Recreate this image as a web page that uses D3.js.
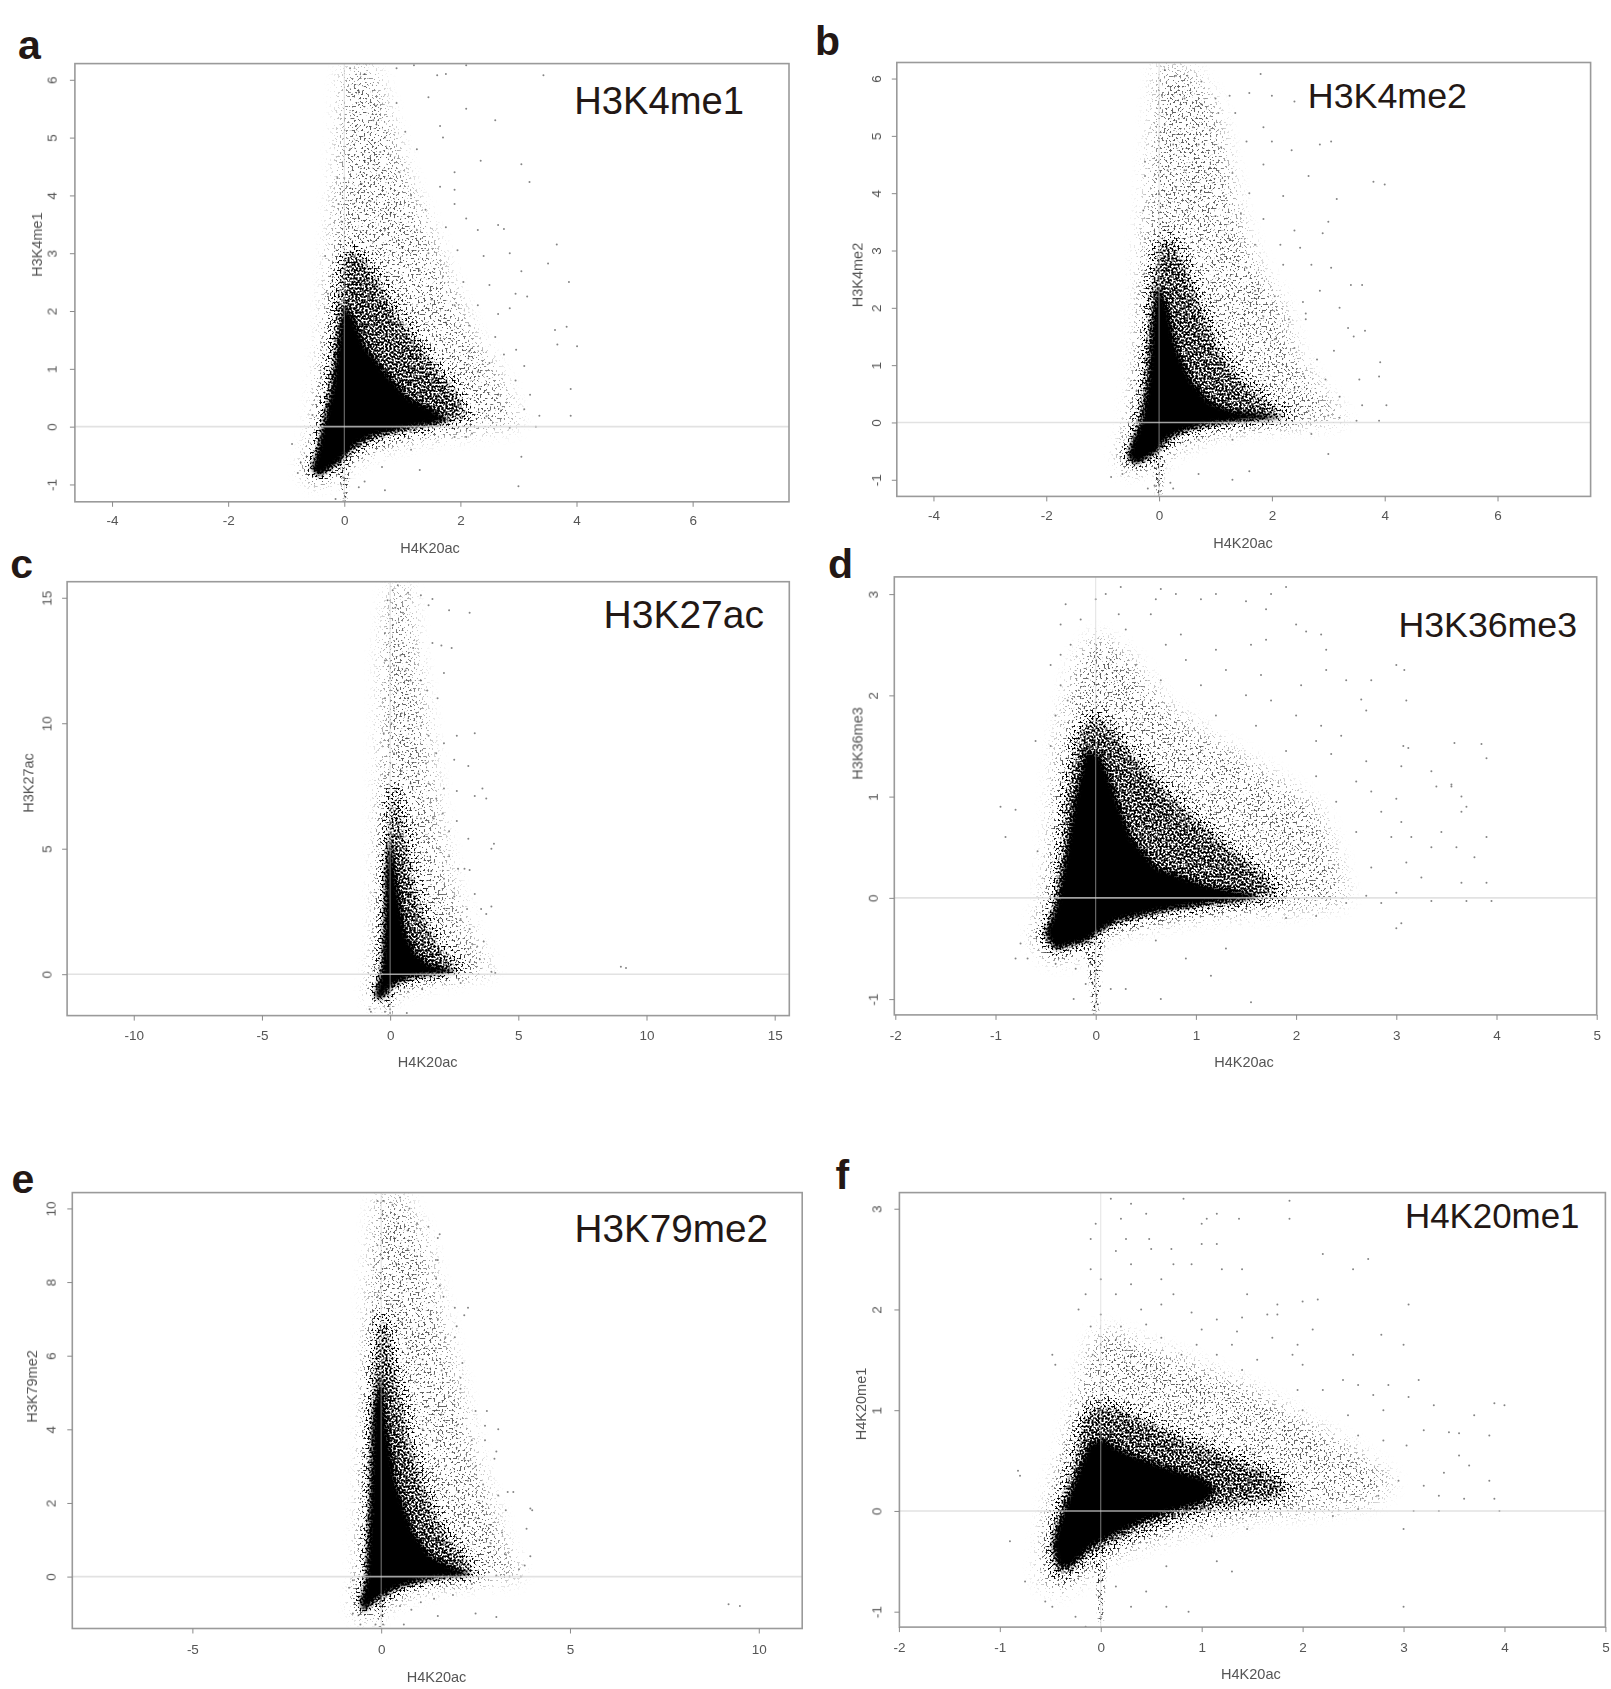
<!DOCTYPE html>
<html>
<head>
<meta charset="utf-8">
<script src="https://cdn.jsdelivr.net/npm/d3@7"></script>
<style>
  html, body { margin: 0; padding: 0; background: #fff; }
  svg { display: block; }
  text { font-family: "Liberation Sans", Arial, sans-serif; }
  .tick-text { fill: #555; font-size: 13.5px; filter: blur(0.45px); }
  .axis-title { fill: #555; font-size: 14.5px; filter: blur(0.45px); }
  .panel-title { fill: #231815; }
  .panel-letter { fill: #231815; font-weight: bold; font-size: 41px; }
</style>
</head>
<body>
<div id="chart"></div>
<script>
// values, data units (H4K20ac, y mark)
var xTicksA = [-4, -2, 0, 2, 4, 6], yTicksA = [-1, 0, 1, 2, 3, 4, 5, 6];
var xTicksB = [-4, -2, 0, 2, 4, 6], yTicksB = [-1, 0, 1, 2, 3, 4, 5, 6];
var xTicksC = [-10, -5, 0, 5, 10, 15], yTicksC = [0, 5, 10, 15];
var xTicksD = [-2, -1, 0, 1, 2, 3, 4, 5], yTicksD = [-1, 0, 1, 2, 3];
var xTicksE = [-5, 0, 5, 10], yTicksE = [0, 2, 4, 6, 8, 10];
var xTicksF = [-2, -1, 0, 1, 2, 3, 4, 5], yTicksF = [-1, 0, 1, 2, 3];

// density outlines: solid core, denser cloud, thin cloud, tail under x = 0
var coreA = [[-0.55,-0.72],[-0.45,-0.85],[-0.3,-0.75],[-0.12,-0.62],[0,-0.5],[0.2,-0.3],[0.5,-0.15],[1,-0.03],[1.5,0.06],[1.8,0.12],[1.5,0.3],[1.1,0.5],[0.7,0.95],[0.35,1.4],[0.15,1.9],[0,2.1],[-0.1,1.5],[-0.2,0.7],[-0.35,0.05],[-0.45,-0.4]];
var midA = [[-0.62,-0.75],[-0.45,-0.92],[-0.2,-0.75],[0.05,-0.55],[0.4,-0.3],[1,-0.12],[1.6,0],[2.2,0.1],[2,0.6],[1.5,1.2],[1,1.9],[0.6,2.6],[0.25,3.1],[0,3.1],[-0.15,2.4],[-0.25,1.2],[-0.4,0.1],[-0.5,-0.4]];
var outerA = [[-0.7,-0.8],[-0.45,-1],[0,-0.7],[0.5,-0.4],[1.2,-0.2],[2,-0.1],[3,0.05],[2.7,0.8],[2.2,1.6],[1.8,2.5],[1.5,3.3],[1.1,4.2],[0.8,5.2],[0.5,6.2],[0,6.2],[-0.1,4.5],[-0.25,2.8],[-0.35,1.5],[-0.5,0]];
var tailA = [[-0.1,-0.65],[-0.04,-1.28],[0.04,-1.28],[0.1,-0.65]];
var coreB = [[-0.55,-0.6],[-0.4,-0.72],[-0.2,-0.6],[-0.03,-0.5],[0.1,-0.3],[0.4,-0.15],[0.8,-0.03],[1.3,0.03],[1.9,0.07],[2.2,0.08],[1.9,0.13],[1.3,0.2],[0.9,0.35],[0.55,0.75],[0.3,1.3],[0.15,2],[-0.02,2.4],[-0.12,1.7],[-0.18,0.8],[-0.3,0.05],[-0.45,-0.3]];
var midB = [[-0.62,-0.65],[-0.45,-0.8],[-0.1,-0.6],[0.3,-0.25],[0.9,-0.08],[1.6,0],[2.5,0.05],[2,0.35],[1.5,0.75],[1.1,1.3],[0.8,2],[0.5,2.8],[0.2,3.3],[-0.05,3.1],[-0.2,2.3],[-0.27,1.2],[-0.4,0.1]];
var outerB = [[-0.7,-0.7],[-0.5,-0.85],[-0.1,-0.75],[0.4,-0.4],[1.2,-0.1],[2.2,-0.02],[3.3,0.05],[2.8,0.6],[2.4,1.2],[2.2,2],[1.7,2.8],[1.4,3.6],[1.2,4.6],[1,5.5],[0.6,6.1],[0,6.25],[-0.15,4.5],[-0.3,3],[-0.35,1.2],[-0.5,0]];
var tailB = [[-0.1,-0.6],[-0.05,-1.27],[0.05,-1.27],[0.1,-0.6]];
var coreC = [[-0.6,-0.85],[-0.4,-1],[-0.2,-0.8],[-0.05,-0.55],[0.3,-0.3],[0.8,-0.1],[1.5,0],[2.6,0.1],[1.5,0.4],[1,0.8],[0.6,1.6],[0.35,3],[0.15,4.5],[0,5.5],[-0.15,4],[-0.2,2],[-0.3,0.2],[-0.45,-0.4]];
var midC = [[-0.68,-0.9],[-0.4,-1.1],[0,-0.7],[0.6,-0.3],[1.5,-0.1],[3.1,0.1],[2.5,0.6],[1.9,1.3],[1.3,2.6],[0.9,4.2],[0.6,6],[0.2,7.5],[-0.1,7.5],[-0.25,5],[-0.32,2],[-0.45,0]];
var outerC = [[-0.75,-0.9],[-0.4,-1.2],[0.5,-0.55],[1.5,-0.25],[3,0],[4,0.1],[3.5,0.8],[3,2],[2.4,3.5],[2,5.5],[1.7,7.5],[1.4,10],[1,12.5],[0.7,15.3],[0.1,15.6],[-0.25,13],[-0.3,9],[-0.4,5],[-0.5,1]];
var tailC = [[-0.15,-0.8],[-0.08,-1.6],[0.08,-1.6],[0.15,-0.8]];
var coreD = [[-0.5,-0.35],[-0.4,-0.5],[-0.1,-0.42],[0,-0.35],[0.2,-0.22],[0.6,-0.13],[1.1,-0.05],[1.6,0],[1.6,0.03],[1.1,0.12],[0.6,0.3],[0.35,0.6],[0.2,1],[0.05,1.4],[-0.1,1.45],[-0.2,1],[-0.3,0.4],[-0.37,0],[-0.43,-0.2]];
var midD = [[-0.55,-0.4],[-0.45,-0.55],[-0.1,-0.47],[0.1,-0.3],[0.7,-0.16],[1.3,-0.08],[1.9,0],[1.7,0.25],[1.3,0.55],[0.9,0.9],[0.6,1.2],[0.3,1.55],[0,1.85],[-0.2,1.65],[-0.33,1],[-0.38,0.4],[-0.45,-0.1]];
var outerD = [[-0.62,-0.4],[-0.45,-0.62],[-0.1,-0.55],[0.1,-0.35],[0.7,-0.22],[1.3,-0.15],[2.1,-0.1],[2.5,-0.02],[2.4,0.4],[2.2,0.9],[1.6,1.3],[1.1,1.6],[0.7,1.9],[0.3,2.4],[0,2.6],[-0.2,2.3],[-0.38,1.5],[-0.45,0.5],[-0.5,0]];
var tailD = [[-0.1,-0.42],[-0.03,-1.12],[0.03,-1.12],[0.08,-0.42]];
var coreE = [[-0.55,-0.7],[-0.45,-0.95],[-0.25,-0.7],[-0.05,-0.55],[0.4,-0.3],[1,-0.1],[1.7,0],[2.4,0.05],[1.9,0.25],[1.3,0.55],[0.8,1.3],[0.4,2.5],[0.15,4],[0,5.5],[-0.2,4.5],[-0.28,2],[-0.38,0],[-0.45,-0.4]];
var midE = [[-0.62,-0.8],[-0.45,-1.02],[0,-0.65],[0.6,-0.3],[1.5,-0.08],[2.7,0],[2.2,0.6],[1.7,1.3],[1.2,2.4],[0.8,3.8],[0.45,5.5],[0.2,7],[-0.1,7.2],[-0.3,5.5],[-0.38,2],[-0.45,0]];
var outerE = [[-0.7,-0.9],[-0.4,-1.15],[0.4,-0.6],[1.3,-0.25],[2.6,-0.1],[3.7,0],[3.2,1],[2.9,2],[2.5,3.2],[2.2,4.5],[1.9,5.8],[1.5,7.5],[1.2,9],[0.6,10.3],[-0.1,10.3],[-0.3,8],[-0.35,5],[-0.5,1.5],[-0.55,0]];
var tailE = [[-0.1,-0.6],[-0.05,-1.38],[0.05,-1.38],[0.1,-0.6]];
var coreF = [[-0.42,-0.55],[-0.3,-0.55],[-0.1,-0.35],[0.1,-0.25],[0.4,-0.1],[0.7,0],[1,0.08],[1.15,0.2],[1,0.33],[0.75,0.4],[0.45,0.5],[0.2,0.6],[0,0.72],[-0.12,0.65],[-0.22,0.4],[-0.33,0.1],[-0.42,-0.15],[-0.47,-0.35]];
var midF = [[-0.5,-0.55],[-0.4,-0.72],[-0.15,-0.5],[0.1,-0.35],[0.5,-0.18],[0.9,-0.05],[1.3,0.03],[1.8,0.1],[1.9,0.25],[1.6,0.45],[1.2,0.6],[0.8,0.75],[0.4,0.95],[0,1.1],[-0.2,0.95],[-0.32,0.4],[-0.42,0.1],[-0.5,-0.2]];
var outerF = [[-0.6,-0.7],[-0.4,-0.8],[-0.1,-0.6],[0.3,-0.35],[0.9,-0.18],[1.5,-0.05],[2.2,0.02],[2.7,0.1],[2.9,0.3],[2.5,0.6],[2,0.9],[1.5,1.2],[0.8,1.5],[0.3,1.7],[0,1.8],[-0.15,1.5],[-0.3,0.8],[-0.45,0.3],[-0.55,-0.2]];
var tailF = [[-0.06,-0.5],[-0.02,-1.1],[0.02,-1.1],[0.05,-0.5]];

// single dots picked out of the sparse parts
var pointsA = [[3.43,6.08],[3.05,4.54],[3.19,4.23],[2.65,3.49],[2.75,3.42],[3.66,3.15],[3.51,2.82],[3.87,2.5],[3.05,2.69],[3.63,1.67],[3.83,1.73],[4.01,1.39],[2.96,1.33],[3.67,1.42],[3.1,1.05],[3.9,0.65],[3.9,0.19],[3.36,0.19],[3.05,-0.52],[3,-1.03],[0.1,6.2],[0.35,6.1],[0.9,6.2],[1.2,6.25],[1.6,6.08],[1.75,6.1],[2.1,6.25],[0.25,5.8],[0.55,5.55],[0.9,5.6],[1.45,5.7],[2.1,5.5],[0.2,5.2],[0.5,5.3],[0.7,5],[1.05,5.1],[1.65,5.2],[1.7,5],[2.6,5.3],[0.1,4.8],[0.35,4.6],[0.62,4.75],[0.95,4.4],[1.25,4.8],[1.9,4.4],[2.35,4.6],[0,4.3],[0.3,4.2],[0.6,4.35],[1.15,4],[1.65,4.15],[1.9,4.1],[0.15,3.85],[0.45,3.9],[0.8,3.7],[1.4,3.75],[1.9,3.85],[2.1,3.6],[-0.05,3.55],[0.25,3.6],[0.7,3.4],[1.25,3.4],[1.75,3.45],[2.3,3.4],[0.5,3.2],[1,3.1],[1.45,3],[1.95,3.05],[2.4,2.95],[2.85,3],[1.3,2.7],[1.7,2.6],[2.05,2.5],[2.5,2.45],[2.95,2.3],[3.15,2.25],[1.5,2.2],[1.9,2.1],[2.3,2.1],[2.65,1.95],[2.85,2.05],[1.75,1.8],[2.15,1.75],[2.6,1.55],[2.75,1.25],[2.5,1.1],[2.15,1.3],[2.3,0.95],[2.95,0.8],[2.65,0.55],[3.2,0.55],[2.7,0.28],[3.1,0.3],[2.45,0.18],[3.3,0],[2.85,-0.02],[2.2,-0.12],[1.9,-0.18],[2.1,-0.18],[1.15,-0.4],[1.3,-0.75],[0.65,-0.7],[0.35,-0.95],[0.7,-1.1],[0.25,-1.05],[-0.05,-1],[-0.02,-0.88],[0,-1.15],[0.02,-1.22],[-0.15,-1.25],[-0.8,-0.8],[-0.75,-0.62],[-0.9,-0.3],[-0.55,0.2],[-0.4,0.85],[-0.28,2.3],[-0.33,2.95],[-0.1,3.85],[-0.12,4.3]];
var pointsB = [[1.8,6.08],[1.6,5.75],[2,5.7],[0.1,6.15],[0.3,6.05],[0.5,6.05],[0.75,5.95],[1,5.65],[1.25,5.7],[0.05,5.7],[0.45,5.65],[0.75,5.55],[1.05,5.4],[2.4,5.6],[0.1,5.2],[0.35,5.3],[0.6,5.15],[0.9,5.1],[1.35,5.4],[1.85,5.15],[0,4.9],[0.25,4.85],[0.7,4.85],[1.1,4.8],[1.55,4.9],[2,4.9],[2.85,4.85],[3.05,4.9],[2.35,4.75],[-0.25,4.55],[0.15,4.4],[0.45,4.4],[0.9,4.45],[1.3,4.35],[1.85,4.5],[2.65,4.3],[3.8,4.2],[4,4.15],[0,4],[0.3,4.1],[0.75,4.05],[1.15,3.95],[1.6,4],[2.2,3.95],[3.15,3.9],[0.5,3.7],[1,3.6],[1.45,3.65],[1.85,3.55],[2.4,3.35],[3,3.5],[2.9,3.3],[0.85,3.2],[1.25,3.2],[1.7,3.1],[2.15,3.1],[2.5,3.05],[1.1,2.85],[1.55,2.7],[2.2,2.75],[2.7,2.75],[3.05,2.7],[3.4,2.4],[3.6,2.4],[1.7,2.3],[2.05,2.2],[2.55,2.1],[2.85,2.3],[3.2,2],[1.85,1.85],[2.3,1.8],[2.6,1.8],[2.6,1.9],[3.35,1.65],[3.65,1.6],[3.45,1.5],[2.05,1.45],[2.4,1.3],[2.8,1.1],[3.1,1.25],[3.92,1.05],[3.9,0.8],[3.55,0.75],[2.55,0.85],[2.95,0.75],[2.4,0.6],[3.2,0.45],[3.6,0.3],[4.03,0.3],[2.65,0.2],[3,0.12],[3.2,0.08],[3.5,0.03],[3.9,0.03],[2.7,-0.2],[3,-0.55],[1.6,-0.85],[1.3,-0.3],[0.7,-0.3],[1.3,-1],[0.7,-0.9],[-0.05,-0.8],[0,-0.9],[-0.02,-1],[0,-1.1],[0.02,-1.2],[-0.08,-1.1],[-0.2,-1.15],[-0.65,-0.9],[-0.85,-0.95],[0.2,-1.05],[0.25,-1.15],[-0.45,-0.05],[-0.4,0.55],[-0.26,2.6],[-0.25,3.2],[-0.28,3.7],[-0.25,4.3]];
var pointsC = [[9,0.3],[9.2,0.25],[3.95,0.1],[4.1,0.05],[3.4,1.1],[3.2,1.2],[3.65,1.3],[3.75,2.4],[3.55,2.6],[3.95,2.7],[3,2.6],[3.3,3.2],[2.9,4.2],[3.1,4.15],[3.95,5],[4.05,5.2],[3.05,5.4],[3.75,7],[3.6,7.4],[3.3,7.1],[2.6,7.3],[2.1,7.4],[3.05,8.3],[2.5,8.55],[3.3,9.6],[2.1,9.2],[2.6,9.5],[1.5,9.5],[1.8,8.8],[1.2,9.9],[0.7,10.1],[1.45,11.3],[1.85,11],[2.1,12],[1.2,11.7],[0.8,11.7],[2,13.1],[2.4,13],[1.65,13.2],[0.9,13],[0.5,13.2],[3.1,14.4],[2.3,14.5],[1.5,14.7],[1.65,14.95],[1.2,15.1],[0.7,15.2],[0.3,15.5],[0.1,15.3],[0.2,14.6],[-0.1,14.9],[0.5,14.4],[-0.2,13.6],[0.1,13.9],[0.4,12.7],[0.15,12.3],[-0.2,12.5],[0.6,12.1],[0,11.8],[0.3,11.3],[-0.2,11],[0.7,11],[0.15,10.6],[0.45,10.4],[-0.25,9.6],[0.05,10],[0.65,9.4],[0.3,9.1],[1,9],[0.15,8.8],[0.85,8.6],[1.4,8.4],[0.45,8.1],[1.1,8],[-0.2,7.9],[0.8,7.6],[1.5,7.6],[0.2,7.3],[1.8,7],[1.3,6.9],[2.05,6.4],[1.7,6.2],[2.6,6.1],[1.2,6.2],[2.3,5.7],[1.5,5.4],[1.9,5],[2.3,4.7],[2.65,4.2],[1.6,4.1],[2.1,3.8],[2.5,3.1],[3.1,1.8],[2.75,2.2],[2.3,2.4],[3.5,0.6],[3.1,0.5],[2.75,-0.35],[1.25,-0.6],[0.7,-0.7],[0.55,-0.55],[-0.2,-1.5],[0,-1.4],[0,-1.55],[-0.8,-1.4],[-0.75,-1.5],[0.65,-1.55]];
var pointsD = [[-0.8,0.87],[-0.95,0.9],[-0.9,0.6],[-0.6,1.55],[-0.58,0.46],[-0.75,-0.45],[-0.8,-0.6],[-0.68,-0.6],[-0.4,-0.65],[-0.2,-0.7],[-0.05,-0.65],[0,-0.75],[-0.03,-0.85],[0,-0.95],[0.02,-1.05],[-0.02,-1.15],[-0.22,-1],[-0.1,-0.85],[0.15,-0.9],[0.3,-0.9],[0.65,-1],[1.55,-1.03],[1.15,-0.77],[0.9,-0.6],[1.3,-0.5],[0.6,-0.42],[3.05,-0.25],[3,-0.3],[2.2,-0.18],[1.9,-0.2],[2.5,-0.05],[2.85,-0.05],[3.35,-0.03],[3.7,-0.03],[3.95,-0.03],[2.7,0.02],[3,0.05],[3.25,0.2],[3.65,0.15],[3.9,0.15],[3.1,0.35],[3.35,0.5],[2.75,0.3],[3.6,0.5],[3.78,0.4],[2.95,0.6],[3.15,0.6],[3.45,0.65],[3.9,0.6],[2.6,0.65],[2.85,0.85],[3.05,0.75],[3.65,0.85],[3.7,0.9],[2.4,0.95],[2.75,1.05],[3,0.98],[3.4,1.1],[3.55,1.1],[3.65,1],[2.6,1.15],[2.2,1.2],[2.35,1.42],[2.7,1.35],[3.05,1.3],[3.35,1.25],[3.55,1.12],[3.9,1.38],[1.9,1.45],[2.2,1.55],[2.45,1.6],[3.07,1.5],[3.12,1.48],[3.58,1.53],[3.85,1.52],[1.6,1.7],[2,1.8],[2.25,1.7],[2.7,1.85],[3.1,1.95],[2.65,1.96],[1.2,1.8],[1.5,2],[1.75,1.95],[2.05,2.1],[2.5,2.15],[2.75,2.15],[3,2.3],[3.08,2.25],[1.05,2.1],[1.3,2.25],[1.65,2.2],[2.3,2.25],[2.3,2.45],[2,2.7],[2.1,2.63],[2.25,2.6],[0.9,2.35],[0.65,2.15],[1.55,2.5],[1.7,2.55],[1.2,2.45],[0.4,2.3],[0.7,2.5],[0.85,2.6],[0.3,2.65],[0.15,2.35],[0.55,2.8],[0.23,2.8],[0.6,2.95],[0.1,3],[0.25,3.07],[0.65,3.05],[0.8,3],[1.05,2.95],[1.2,3],[1.5,2.93],[1.7,2.85],[1.9,3.07],[1.75,3],[0,2.95],[-0.15,2.75],[-0.3,2.9],[-0.35,2.7],[-0.35,2.4],[-0.25,2.5],[-0.45,2.3],[-0.35,2.1],[-0.28,1.95],[-0.45,1.5],[-0.4,1.8]];
var pointsE = [[9.2,-0.75],[9.5,-0.8],[3.05,-1.1],[2.5,-1],[1.5,-1.07],[0.6,-1.3],[0.05,-1.3],[0,-1.05],[-0.15,-1.3],[-0.55,-1.3],[-0.75,-1],[-0.6,-1.05],[-0.85,-0.3],[-0.75,-0.1],[4,1.8],[3.95,1.85],[3.85,1.3],[3.95,0.55],[3.8,0.3],[3.65,0.2],[3.7,0],[3.4,0],[3.05,0.03],[3.5,2.3],[3.35,2.3],[3.1,2.2],[3.3,1.8],[3.2,1.2],[2.9,0.9],[3.3,0.6],[3.05,3.4],[3,3.2],[3.1,4],[2.75,4.1],[2.8,4.5],[2.75,3.7],[2.5,3],[2.7,2.5],[2.6,2],[2.9,1.4],[2.6,1],[2.5,4.5],[2.4,3.7],[2.1,5.1],[2.15,5.8],[2.1,5.4],[1.95,6.5],[2,6.8],[1.7,6.5],[1.5,7],[2.3,7.3],[2.2,7.1],[1.95,7.3],[1.55,7.9],[1.45,8.1],[1.65,7.6],[1.5,8.6],[1.45,8.6],[1.5,9.2],[1.55,9.3],[1.25,9.5],[0.95,9.6],[0.75,10],[0.5,10.3],[0.3,10.1],[0.05,10.2],[-0.1,10.2],[0.15,9.8],[0.45,9.6],[0.7,9.4],[0.35,9.2],[-0.1,9],[0.15,8.9],[0.7,8.9],[0.95,8.7],[0.4,8.5],[-0.2,8.4],[0.1,8.1],[0.75,8.1],[1.1,7.8],[0.55,7.7],[-0.1,7.6],[0.25,7.4],[0.95,7.3],[1.3,7],[0.55,6.9],[1,6.6],[1.45,6.2],[0.7,6.2],[1.1,5.9],[1.6,5.6],[0.9,5.3],[1.4,5.2],[1.8,4.9],[1.2,4.6],[1.6,4.4],[2,4.1],[1.1,4],[1.5,3.7],[2,3.5],[2.2,3.2],[1.7,3],[2.3,2.6],[2.05,2.3],[2.5,1.6],[2.2,1.4],[2.4,-0.2],[1.9,-0.5],[1.4,-0.6],[0.8,-0.9],[0.5,-0.8],[1.05,-0.7],[-0.2,1.7],[-0.35,3.1],[-0.3,4.2],[-0.25,5.5],[-0.28,6.5],[-0.22,7.2]];
var pointsF = [[1.87,3.08],[1.87,2.9],[0.1,3.1],[0.3,3.05],[0.82,3.1],[1.15,2.95],[1.05,2.9],[1,2.85],[1.37,2.9],[-0.05,2.85],[0.2,2.9],[0.45,2.95],[-0.1,2.7],[0.25,2.7],[0.48,2.7],[1,2.65],[1.15,2.65],[0.15,2.58],[0.5,2.6],[0.7,2.6],[2.2,2.55],[2.65,2.5],[2.5,2.4],[-0.1,2.4],[0.3,2.45],[0.72,2.45],[0.9,2.45],[1.2,2.4],[1.4,2.4],[0,2.3],[0.3,2.25],[0.6,2.3],[-0.15,2.15],[0.15,2.15],[0.6,2.05],[0.72,2.15],[1.45,2.15],[1.75,2.05],[2,2.08],[2.15,2.1],[3.05,2.05],[-0.22,2],[0,1.95],[0.4,2],[0.9,1.97],[1.15,1.9],[1.4,1.92],[1.65,1.95],[1.75,1.95],[-0.1,1.83],[0.2,1.83],[0.45,1.85],[1,1.8],[1.35,1.78],[2.1,1.8],[2.78,1.75],[0,1.65],[0.15,1.7],[0.6,1.72],[0.95,1.65],[1.3,1.65],[1.7,1.72],[1.95,1.65],[3,1.65],[-0.08,1.55],[0.3,1.55],[0.8,1.55],[1.15,1.55],[1.55,1.5],[2.5,1.55],[2,1.45],[1.9,1.55],[-0.45,1.45],[0,1.45],[0.45,1.42],[1.4,1.4],[2.4,1.3],[2.55,1.25],[2.85,1.25],[3.15,1.3],[1.95,1.2],[2.2,1.2],[2.7,1.15],[3.05,1.13],[2,1],[2.45,0.95],[2.8,1],[3.3,1.05],[3.9,1.07],[4,1.05],[3.7,0.95],[3.2,0.8],[3.45,0.78],[3.55,0.77],[3.85,0.75],[2.55,0.75],[2.8,0.7],[3.03,0.65],[3.55,0.55],[3.65,0.45],[3.4,0.38],[3.85,0.3],[2.95,0.3],[3.2,0.25],[3.35,0.15],[2.75,0.15],[3.6,0.12],[3.9,0.12],[2.55,0.02],[3.1,0],[3.35,0],[3.95,0],[3,-0.18],[2.3,-0.05],[1.45,-0.18],[1.1,-0.25],[1.15,-0.5],[1.3,-0.6],[0.65,-0.55],[0.45,-0.8],[0.3,-0.95],[0.65,-0.95],[0.87,-1],[3,-0.95],[0.15,-0.75],[0,-0.7],[-0.02,-0.85],[0,-1.05],[-0.25,-1.05],[-0.15,-1.15],[-0.55,-0.9],[-0.48,-0.95],[-0.75,-0.7],[-0.9,-0.3],[-0.8,0.35],[-0.82,0.4],[-0.48,1.55]];

// where the frames sit on the page, pixels
var panels = [
  {letter: "a", name: "H3K4me1", core: coreA, mid: midA, outer: outerA, tail: tailA, points: pointsA, xTicks: xTicksA, yTicks: yTicksA,
   xDomain: [-4.64, 7.66], yDomain: [-1.3, 6.28], box: [74.9, 63.6, 789, 501.8], letterPos: [18, 59],
   title: [744, 114, 38.2], tickY: 520.7, tickX: 51.6, xLabel: [430, 548], yLabel: [37, 244.6]},
  {letter: "b", name: "H3K4me2", core: coreB, mid: midB, outer: outerB, tail: tailB, points: pointsB, xTicks: xTicksB, yTicks: yTicksB,
   xDomain: [-4.65, 7.65], yDomain: [-1.29, 6.28], box: [896.8, 62.5, 1590.6, 496.4], letterPos: [815, 55.4],
   title: [1467, 107.9, 35.8], tickY: 515, tickX: 876, xLabel: [1243, 543], yLabel: [857.5, 275]},
  {letter: "c", name: "H3K27ac", core: coreC, mid: midC, outer: outerC, tail: tailC, points: pointsC, xTicks: xTicksC, yTicks: yTicksC,
   xDomain: [-12.6, 15.57], yDomain: [-1.65, 15.64], box: [67.1, 581.7, 789.3, 1015.6], letterPos: [10.3, 577.5],
   title: [764, 627.5, 39], tickY: 1034.8, tickX: 46.5, xLabel: [427.7, 1062], yLabel: [28.4, 783]},
  {letter: "d", name: "H3K36me3", core: coreD, mid: midD, outer: outerD, tail: tailD, points: pointsD, xTicks: xTicksD, yTicks: yTicksD,
   xDomain: [-2.01, 5], yDomain: [-1.156, 3.17], box: [894.3, 576.9, 1596.7, 1014.9], letterPos: [828, 577.5],
   title: [1577, 636.8, 35.7], tickY: 1034.8, tickX: 872.8, xLabel: [1244, 1062], yLabel: [857.5, 743.5]},
  {letter: "e", name: "H3K79me2", core: coreE, mid: midE, outer: outerE, tail: tailE, points: pointsE, xTicks: xTicksE, yTicks: yTicksE,
   xDomain: [-8.18, 11.15], yDomain: [-1.41, 10.43], box: [72.3, 1192.6, 802.2, 1628.5], letterPos: [11.4, 1193],
   title: [768, 1241.8, 38.7], tickY: 1649, tickX: 50.6, xLabel: [436.5, 1676.6], yLabel: [32, 1386.5]},
  {letter: "f", name: "H4K20me1", core: coreF, mid: midF, outer: outerF, tail: tailF, points: pointsF, xTicks: xTicksF, yTicks: yTicksF,
   xDomain: [-1.995, 5], yDomain: [-1.153, 3.16], box: [899.4, 1192.6, 1605.4, 1627.1], letterPos: [835.5, 1188.8],
   title: [1579.5, 1227.7, 34.9], tickY: 1647.4, tickX: 876.4, xLabel: [1250.9, 1674], yLabel: [861, 1404]}
];

var svg = d3.select("#chart").append("svg")
    .attr("width", 1611)
    .attr("height", 1689);

var defs = svg.append("defs");

// blurs so the outlines melt into each other
function addBlur(id, sd) {
    defs.append("filter")
        .attr("id", id)
        .attr("x", "-30%").attr("y", "-30%")
        .attr("width", "160%").attr("height", "160%")
        .append("feGaussianBlur")
        .attr("stdDeviation", sd);
}
addBlur("blurCore", 2);
addBlur("blurHalo", 5);
addBlur("blurMid", 7);
addBlur("blurOuter", 9);
addBlur("blurTail", 1.2);

// grain: turns the soft grey field into specks, darker where the field is darker
var stipple = defs.append("filter")
    .attr("id", "stipple")
    .attr("filterUnits", "userSpaceOnUse")
    .attr("x", 0).attr("y", 0)
    .attr("width", 1611).attr("height", 1689)
    .attr("color-interpolation-filters", "sRGB");
stipple.append("feTurbulence")
    .attr("type", "fractalNoise")
    .attr("baseFrequency", 0.5)
    .attr("numOctaves", 2)
    .attr("seed", 7)
    .attr("result", "noise");
stipple.append("feColorMatrix")
    .attr("in", "noise")
    .attr("type", "matrix")
    .attr("values", "0 0 0 0 0  0 0 0 0 0  0 0 0 0 0  3.4 0 0 0 -1.2")
    .attr("result", "grain");
stipple.append("feComposite")
    .attr("in", "SourceAlpha")
    .attr("in2", "grain")
    .attr("operator", "arithmetic")
    .attr("k1", 0).attr("k2", 1).attr("k3", 1).attr("k4", -1)
    .attr("result", "mix");
let transfer = stipple.append("feComponentTransfer")
    .attr("in", "mix")
    .attr("result", "hard");
transfer.append("feFuncA")
    .attr("type", "linear")
    .attr("slope", 2.6)
    .attr("intercept", 0);
stipple.append("feGaussianBlur")
    .attr("in", "hard")
    .attr("stdDeviation", 0.55);

function drawPanel(p, i) {
    let left = p.box[0], top = p.box[1], right = p.box[2], bottom = p.box[3];
    let x = d3.scaleLinear().domain(p.xDomain).range([left, right]);
    let y = d3.scaleLinear().domain(p.yDomain).range([bottom, top]);

    let clipId = "clip" + i;
    svg.append("clipPath").attr("id", clipId).append("rect")
        .attr("x", left).attr("y", top)
        .attr("width", right - left).attr("height", bottom - top);

    let g = svg.append("g").attr("clip-path", "url(#" + clipId + ")");
    let cloud = g.append("g").attr("filter", "url(#stipple)");

    let line = d3.line()
        .x(function(d) { return x(d[0]); })
        .y(function(d) { return y(d[1]); })
        .curve(d3.curveLinearClosed);

    let layers = [[p.outer, 0.24, "blurOuter"], [p.tail, 0.3, "blurTail"], [p.mid, 0.66, "blurMid"], [p.core, 0.95, "blurHalo"]];
    layers.forEach(function(l) {
        cloud.append("path")
            .datum(l[0])
            .attr("d", line)
            .attr("fill", "#000")
            .attr("fill-opacity", l[1])
            .attr("filter", "url(#" + l[2] + ")");
    });

    // the core is plain black, no grain
    g.append("path")
        .datum(p.core)
        .attr("d", line)
        .attr("fill", "#000")
        .attr("filter", "url(#blurCore)");

    g.selectAll("circle")
        .data(p.points)
        .join("circle")
        .attr("cx", function(d) { return x(d[0]); })
        .attr("cy", function(d) { return y(d[1]); })
        .attr("r", 1)
        .attr("fill", "#333")
        .attr("fill-opacity", 0.6);

    // reference lines at zero
    g.append("line")
        .attr("x1", left).attr("x2", right)
        .attr("y1", y(0)).attr("y2", y(0))
        .attr("stroke", "#d8d8d8").attr("stroke-opacity", 0.75).attr("stroke-width", 1.6);
    g.append("line")
        .attr("x1", x(0)).attr("x2", x(0))
        .attr("y1", top).attr("y2", bottom)
        .attr("stroke", "#cfcfcf").attr("stroke-opacity", 0.6).attr("stroke-width", 1);

    svg.append("rect")
        .attr("x", left).attr("y", top)
        .attr("width", right - left).attr("height", bottom - top)
        .attr("fill", "none").attr("stroke", "#9a9a9a").attr("stroke-width", 1.6);

    // X axis
    let xAxis = svg.append("g")
        .attr("transform", "translate(0," + bottom + ")")
        .call(d3.axisBottom(x).tickValues(p.xTicks).tickSize(5).tickFormat(function(d) { return String(d); }));
    xAxis.select(".domain").remove();
    xAxis.selectAll("line").attr("stroke", "#8a8a8a");
    xAxis.selectAll("text")
        .attr("class", "tick-text")
        .attr("y", p.tickY - bottom)
        .attr("dy", "0.35em");

    // Y axis, labels turned like in R
    let yAxis = svg.append("g")
        .attr("transform", "translate(" + left + ",0)")
        .call(d3.axisLeft(y).tickValues(p.yTicks).tickSize(5).tickFormat(function(d) { return String(d); }));
    yAxis.select(".domain").remove();
    yAxis.selectAll("line").attr("stroke", "#8a8a8a");
    yAxis.selectAll("text")
        .attr("class", "tick-text")
        .attr("x", 0)
        .attr("dy", "0.35em")
        .attr("text-anchor", "middle")
        .attr("transform", "translate(" + (p.tickX - left) + ",0) rotate(-90)");

    svg.append("text")
        .attr("class", "axis-title")
        .attr("x", p.xLabel[0]).attr("y", p.xLabel[1])
        .attr("dy", "0.35em")
        .attr("text-anchor", "middle")
        .text("H4K20ac");
    svg.append("text")
        .attr("class", "axis-title")
        .attr("transform", "translate(" + p.yLabel[0] + "," + p.yLabel[1] + ") rotate(-90)")
        .attr("dy", "0.35em")
        .attr("text-anchor", "middle")
        .text(p.name);

    svg.append("text")
        .attr("class", "panel-title")
        .attr("x", p.title[0]).attr("y", p.title[1])
        .attr("text-anchor", "end")
        .attr("font-size", p.title[2])
        .text(p.name);
    svg.append("text")
        .attr("class", "panel-letter")
        .attr("x", p.letterPos[0]).attr("y", p.letterPos[1])
        .text(p.letter);
}

panels.forEach(drawPanel);
</script>
</body>
</html>
